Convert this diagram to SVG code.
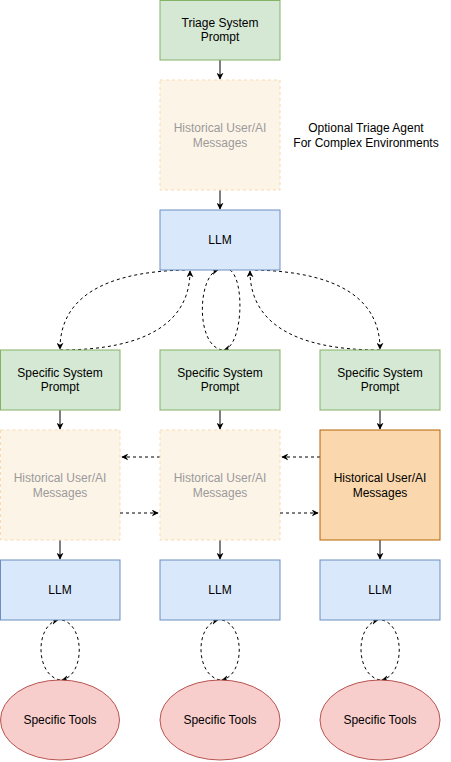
<svg xmlns="http://www.w3.org/2000/svg" width="451" height="762" viewBox="0 0 451 762">
<defs>
<marker id="arr" viewBox="0 0 10 10" refX="9" refY="5" markerWidth="7" markerHeight="7" markerUnits="userSpaceOnUse" orient="auto">
<path d="M0,0 L10,5 L0,10 L3,5 Z" fill="#000"/>
</marker>
<style>
text{font-family:"Liberation Sans",Arial,Helvetica,sans-serif;font-size:12px;text-anchor:middle;fill:#000}
.g{fill:#d5e8d4;stroke:#82b366;stroke-width:1}
.b{fill:#dae8fc;stroke:#6c8ebf;stroke-width:1}
.f{fill:#fdf4e8;stroke:#f8d9b0;stroke-width:1;stroke-dasharray:3 3}
.o{fill:#fad7ac;stroke:#b46504;stroke-width:1}
.r{fill:#f8cecc;stroke:#b85450;stroke-width:1}
.ft{fill:#9a9a9a}
.s{fill:none;stroke:#000;stroke-width:1;marker-end:url(#arr)}
.d{fill:none;stroke:#000;stroke-width:1;stroke-dasharray:3 3;marker-end:url(#arr)}
</style>
</defs>
<g id="connectors">
<path class="s" d="M220 60 V79"/>
<path class="s" d="M220 190 V209"/>
<path class="s" d="M60 410 V429"/>
<path class="s" d="M220 410 V429"/>
<path class="s" d="M380 410 V429"/>
<path class="s" d="M60 540 V559"/>
<path class="s" d="M220 540 V559"/>
<path class="s" d="M380 540 V559"/>
<path class="d" d="M320 457 H282"/>
<path class="d" d="M160 457 H122"/>
<path class="d" d="M120 513 H158"/>
<path class="d" d="M280 513 H318"/>
<path class="d" d="M185 270 C 100 272, 60 300, 60 349"/>
<path class="d" d="M60 350 C 150 350, 190 320, 190 271"/>
<path class="d" d="M230 270 C 245 280, 243 345, 224 350"/>
<path class="d" d="M222 350 C 195 345, 198 275, 218 270"/>
<path class="d" d="M255 270 C 340 272, 380 300, 380 349"/>
<path class="d" d="M380 350 C 290 350, 250 320, 250 271"/>
<g id="loop1">
<path class="d" d="M60 680 C 35 675, 35 625, 58 620"/>
<path class="d" d="M62 620 C 85 625, 85 675, 62 680"/>
</g>
<g id="loop2">
<path class="d" d="M220 680 C 195 675, 195 625, 218 620"/>
<path class="d" d="M222 620 C 245 625, 245 675, 222 680"/>
</g>
<g id="loop3">
<path class="d" d="M380 680 C 355 675, 355 625, 378 620"/>
<path class="d" d="M382 620 C 405 625, 405 675, 382 680"/>
</g>
</g>
<g id="triage-prompt"><rect class="g" x="160" y="0.5" width="120" height="59.5"/><text x="220" y="27">Triage System</text><text x="220" y="41">Prompt</text></g>
<g id="triage-history"><rect class="f" x="160" y="80" width="120" height="110"/><text class="ft" x="220" y="132">Historical User/AI</text><text class="ft" x="220" y="147">Messages</text></g>
<g id="triage-label"><text x="366" y="132">Optional Triage Agent</text><text x="366" y="147">For Complex Environments</text></g>
<g id="triage-llm"><rect class="b" x="160" y="210" width="120" height="60"/><text x="220" y="244">LLM</text></g>
<g id="prompt1"><rect class="g" x="0.5" y="350" width="119.5" height="60"/><text x="60" y="377">Specific System</text><text x="60" y="391">Prompt</text></g>
<g id="prompt2"><rect class="g" x="160" y="350" width="120" height="60"/><text x="220" y="377">Specific System</text><text x="220" y="391">Prompt</text></g>
<g id="prompt3"><rect class="g" x="320" y="350" width="120" height="60"/><text x="380" y="377">Specific System</text><text x="380" y="391">Prompt</text></g>
<g id="history1"><rect class="f" x="0.5" y="430" width="119.5" height="110"/><text class="ft" x="60" y="482">Historical User/AI</text><text class="ft" x="60" y="497">Messages</text></g>
<g id="history2"><rect class="f" x="160" y="430" width="120" height="110"/><text class="ft" x="220" y="482">Historical User/AI</text><text class="ft" x="220" y="497">Messages</text></g>
<g id="history3"><rect class="o" x="320" y="430" width="120" height="110"/><text x="380" y="482">Historical User/AI</text><text x="380" y="497">Messages</text></g>
<g id="llm1"><rect class="b" x="0.5" y="560" width="119.5" height="60"/><text x="60" y="594">LLM</text></g>
<g id="llm2"><rect class="b" x="160" y="560" width="120" height="60"/><text x="220" y="594">LLM</text></g>
<g id="llm3"><rect class="b" x="320" y="560" width="120" height="60"/><text x="380" y="594">LLM</text></g>
<g id="tools1"><ellipse class="r" cx="60" cy="720" rx="59.5" ry="40"/><text x="60" y="724">Specific Tools</text></g>
<g id="tools2"><ellipse class="r" cx="220" cy="720" rx="60" ry="40"/><text x="220" y="724">Specific Tools</text></g>
<g id="tools3"><ellipse class="r" cx="380" cy="720" rx="60" ry="40"/><text x="380" y="724">Specific Tools</text></g>
</svg>
